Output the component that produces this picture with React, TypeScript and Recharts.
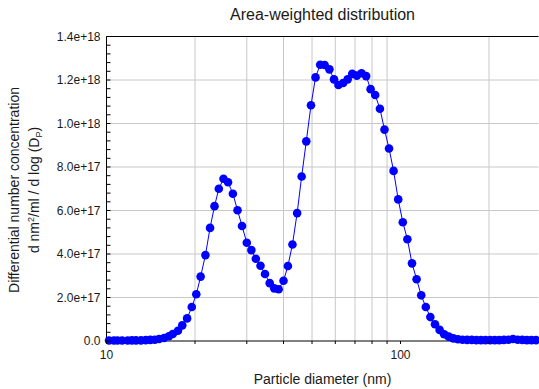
import React from 'react';
import { LineChart, Line, XAxis, YAxis, ReferenceLine } from 'recharts';

const diameters = [
  10.2, 10.6, 10.9, 11.3, 11.8, 12.2, 12.6, 13.1, 13.6, 14.1,
  14.6, 15.1, 15.7, 16.3, 16.8, 17.5, 18.1, 18.8, 19.5, 20.2,
  20.9, 21.7, 22.5, 23.3, 24.1, 25.0, 25.9, 26.9, 27.9, 28.9,
  30.0, 31.1, 32.2, 33.4, 34.6, 35.9, 37.2, 38.5, 40.0, 41.4,
  42.9, 44.5, 46.1, 47.8, 49.6, 51.4, 53.3, 55.2, 57.3, 59.4,
  61.5, 63.8, 66.1, 68.5, 71.0, 73.7, 76.4, 79.1, 82.0, 85.1,
  88.2, 91.4, 94.7, 98.2, 101.8, 105.5, 109.4, 113.4, 117.6, 121.9,
  126.3, 131.0, 135.8, 140.7, 145.9, 151.2, 156.8, 162.5, 168.5, 174.7,
  181.1, 187.7, 194.6, 201.7, 209.1, 216.7, 224.7, 232.9, 241.4, 250.3,
  259.5, 269.0, 278.8, 289.0,
];

const concentration = [
  0.02e17, 0.02e17, 0.02e17, 0.02e17, 0.02e17, 0.03e17, 0.03e17, 0.03e17, 0.04e17, 0.05e17,
  0.06e17, 0.09e17, 0.14e17, 0.22e17, 0.32e17, 0.47e17, 0.72e17, 1.04e17, 1.56e17, 2.15e17,
  2.96e17, 3.95e17, 5.2e17, 6.2e17, 7.0e17, 7.46e17, 7.3e17, 6.77e17, 6.01e17, 5.29e17,
  4.52e17, 4.18e17, 3.78e17, 3.46e17, 3.08e17, 2.66e17, 2.42e17, 2.38e17, 2.77e17, 3.45e17,
  4.44e17, 5.88e17, 7.56e17, 9.18e17, 10.84e17, 12.12e17, 12.7e17, 12.69e17, 12.49e17, 12.03e17,
  11.77e17, 11.86e17, 12.03e17, 12.28e17, 12.2e17, 12.31e17, 12.18e17, 11.58e17, 11.31e17, 10.68e17,
  9.72e17, 8.85e17, 7.82e17, 6.51e17, 5.46e17, 4.68e17, 3.57e17, 2.84e17, 2.1e17, 1.56e17,
  1.1e17, 0.77e17, 0.51e17, 0.31e17, 0.2e17, 0.12e17, 0.08e17, 0.06e17, 0.05e17, 0.05e17,
  0.04e17, 0.04e17, 0.04e17, 0.04e17, 0.04e17, 0.04e17, 0.05e17, 0.06e17, 0.09e17, 0.06e17,
  0.05e17, 0.04e17, 0.04e17, 0.04e17,
];

const xMajorTicks = [10, 100];
const xMinorTicks = [20, 30, 40, 50, 60, 70, 80, 90, 200];
const xDomain = [10, 294.6];

const yMajorTicks = [0, 2e17, 4e17, 6e17, 8e17, 10e17, 12e17, 14e17];
const yMinorTicks = [
  0, 0.4e17, 0.8e17, 1.2e17, 1.6e17, 2e17, 2.4e17, 2.8e17, 3.2e17, 3.6e17,
  4e17, 4.4e17, 4.8e17, 5.2e17, 5.6e17, 6e17, 6.4e17, 6.8e17, 7.2e17, 7.6e17,
  8e17, 8.4e17, 8.8e17, 9.2e17, 9.6e17, 10e17, 10.4e17, 10.8e17, 11.2e17, 11.6e17,
  12e17, 12.4e17, 12.8e17, 13.2e17, 13.6e17, 14e17,
];
const yDomain = [0, 14e17];

const data = diameters.map((d, i) => ({ d, v: concentration[i] }));

const FONT = '"Liberation Sans", Arial, Helvetica, sans-serif';
const TEXT = '#1a1a1a';
const GRID = '#c8c8c8';

const fmtY = (v: number) => (v === 0 ? '0.0' : v.toExponential(1));

const YTick = (props: any) => {
  const { x, y, payload } = props;
  const v = payload.value;
  const isMajor = yMajorTicks.some((m) => Math.abs(m - v) < 1e10);
  return (
    <g>
      <line x1={x} x2={x + 4} y1={y} y2={y} stroke="#000" strokeWidth={1} />
      {isMajor && (
        <text x={x - 6} y={y} dy="0.35em" textAnchor="end" fontSize={12} fill={TEXT} fontFamily={FONT}>
          {fmtY(v)}
        </text>
      )}
    </g>
  );
};

const XTick = (props: any) => {
  const { x, y, payload } = props;
  const v = payload.value;
  const isMajor = xMajorTicks.includes(v);
  return (
    <g>
      <line x1={x} x2={x} y1={y} y2={y + 3} stroke="#000" strokeWidth={1} />
      {isMajor && (
        <text x={x} y={y + 18} textAnchor="middle" fontSize={12} fill={TEXT} fontFamily={FONT}>
          {v}
        </text>
      )}
    </g>
  );
};

const EmptyTick = () => <g />;

export default function App() {
  return (
    <div style={{ position: 'absolute', left: 0, top: 0, width: 539, height: 389, fontFamily: FONT, background: '#fff' }}>
      <LineChart
        width={539}
        height={389}
        data={data}
        margin={{ top: 36.5, right: 0.5, left: 0, bottom: 18 }}
      >
        {xMinorTicks.map((t) => (
          <ReferenceLine key={'vx' + t} x={t} stroke={GRID} strokeWidth={1} />
        ))}
        {yMajorTicks.slice(1, -1).map((t) => (
          <ReferenceLine key={'hy' + t} y={t} stroke={GRID} strokeWidth={1} />
        ))}
        <ReferenceLine y={14e17} stroke="#000" strokeWidth={1} />
        <XAxis
          dataKey="d"
          type="number"
          scale="log"
          domain={xDomain}
          ticks={[...xMajorTicks, ...xMinorTicks]}
          interval={0}
          tickSize={0}
          tickMargin={0}
          tick={XTick}
          tickLine={false}
          axisLine={{ stroke: '#000', strokeWidth: 1 }}
          height={30}
        />
        <YAxis
          type="number"
          domain={yDomain}
          ticks={yMinorTicks}
          interval={0}
          tickSize={0}
          tickMargin={0}
          tick={YTick}
          tickLine={false}
          axisLine={{ stroke: '#000', strokeWidth: 1 }}
          width={106.5}
        />
        <YAxis
          yAxisId="right"
          orientation="right"
          type="number"
          domain={yDomain}
          ticks={yMajorTicks}
          interval={0}
          mirror
          tickSize={4}
          tick={EmptyTick}
          tickLine={{ stroke: '#000' }}
          axisLine={{ stroke: '#000', strokeWidth: 1 }}
          width={0}
        />
        <Line
          type="linear"
          dataKey="v"
          stroke="#0000ff"
          strokeWidth={1}
          dot={{ r: 4.3, fill: '#0000ff', stroke: 'none' }}
          activeDot={false}
          isAnimationActive={false}
        />
      </LineChart>
      <svg
        width={539}
        height={389}
        style={{ position: 'absolute', left: 0, top: 0, pointerEvents: 'none' }}
        fontFamily={FONT}
      >
        <text x={322.5} y={20} textAnchor="middle" fontSize={16} fill={TEXT}>
          Area-weighted distribution
        </text>
        <text x={322.5} y={384} textAnchor="middle" fontSize={14} fill={TEXT}>
          Particle diameter (nm)
        </text>
        <text transform="translate(18.5,190) rotate(-90)" textAnchor="middle" fontSize={14} fill={TEXT}>
          Differential number concentration
        </text>
        <text transform="translate(38.5,190) rotate(-90)" textAnchor="middle" fontSize={14} fill={TEXT}>
          d nm<tspan dy={-5} fontSize={9}>2</tspan>
          <tspan dy={5}>/ml / d log (D</tspan>
          <tspan dy={3} fontSize={9}>P</tspan>
          <tspan dy={-3}>)</tspan>
        </text>
      </svg>
    </div>
  );
}
